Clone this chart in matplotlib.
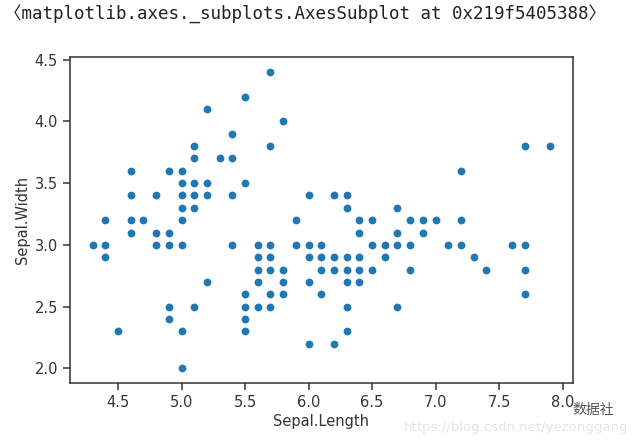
import numpy as np
import matplotlib

matplotlib.use("Agg")
import matplotlib.pyplot as plt

# Iris: Sepal.Length / Sepal.Width (setosa, versicolor, virginica)
sepal_length = [
    5.1, 4.9, 4.7, 4.6, 5.0, 5.4, 4.6, 5.0, 4.4, 4.9, 5.4, 4.8, 4.8, 4.3, 5.8, 5.7, 5.4, 5.1, 5.7, 5.1,
    5.4, 5.1, 4.6, 5.1, 4.8, 5.0, 5.0, 5.2, 5.2, 4.7, 4.8, 5.4, 5.2, 5.5, 4.9, 5.0, 5.5, 4.9, 4.4, 5.1,
    5.0, 4.5, 4.4, 5.0, 5.1, 4.8, 5.1, 4.6, 5.3, 5.0,
    7.0, 6.4, 6.9, 5.5, 6.5, 5.7, 6.3, 4.9, 6.6, 5.2, 5.0, 5.9, 6.0, 6.1, 5.6, 6.7, 5.6, 5.8, 6.2, 5.6,
    5.9, 6.1, 6.3, 6.1, 6.4, 6.6, 6.8, 6.7, 6.0, 5.7, 5.5, 5.5, 5.8, 6.0, 5.4, 6.0, 6.7, 6.3, 5.6, 5.5,
    5.5, 6.1, 5.8, 5.0, 5.6, 5.7, 5.7, 6.2, 5.1, 5.7,
    6.3, 5.8, 7.1, 6.3, 6.5, 7.6, 4.9, 7.3, 6.7, 7.2, 6.5, 6.4, 6.8, 5.7, 5.8, 6.4, 6.5, 7.7, 7.7, 6.0,
    6.9, 5.6, 7.7, 6.3, 6.7, 7.2, 6.2, 6.1, 6.4, 7.2, 7.4, 7.9, 6.4, 6.3, 6.1, 7.7, 6.3, 6.4, 6.0, 6.9,
    6.7, 6.9, 5.8, 6.8, 6.7, 6.7, 6.3, 6.5, 6.2, 5.9,
]
sepal_width = [
    3.5, 3.0, 3.2, 3.1, 3.6, 3.9, 3.4, 3.4, 2.9, 3.1, 3.7, 3.4, 3.0, 3.0, 4.0, 4.4, 3.9, 3.5, 3.8, 3.8,
    3.4, 3.7, 3.6, 3.3, 3.4, 3.0, 3.4, 3.5, 3.4, 3.2, 3.1, 3.4, 4.1, 4.2, 3.1, 3.2, 3.5, 3.6, 3.0, 3.4,
    3.5, 2.3, 3.2, 3.5, 3.8, 3.0, 3.8, 3.2, 3.7, 3.3,
    3.2, 3.2, 3.1, 2.3, 2.8, 2.8, 3.3, 2.4, 2.9, 2.7, 2.0, 3.0, 2.2, 2.9, 2.9, 3.1, 3.0, 2.7, 2.2, 2.5,
    3.2, 2.8, 2.5, 2.8, 2.9, 3.0, 2.8, 3.0, 2.9, 2.6, 2.4, 2.4, 2.7, 2.7, 3.0, 3.4, 3.1, 2.3, 3.0, 2.5,
    2.6, 3.0, 2.6, 2.3, 2.7, 3.0, 2.9, 2.9, 2.5, 2.8,
    3.3, 2.7, 3.0, 2.9, 3.0, 3.0, 2.5, 2.9, 2.5, 3.6, 3.2, 2.7, 3.0, 2.5, 2.8, 3.2, 3.0, 3.8, 2.6, 2.2,
    3.2, 2.8, 2.8, 2.7, 3.3, 3.2, 2.8, 3.0, 2.8, 3.0, 2.8, 3.8, 2.8, 2.8, 2.6, 3.0, 3.4, 3.1, 3.0, 3.1,
    3.1, 3.1, 2.7, 3.2, 3.3, 3.0, 2.5, 3.0, 3.4, 3.0,
]

x_ticks = [4.5, 5.0, 5.5, 6.0, 6.5, 7.0, 7.5, 8.0]
y_ticks = [2.0, 2.5, 3.0, 3.5, 4.0, 4.5]

fig = plt.figure(figsize=(6.4, 4.43), dpi=100)
ax = fig.add_axes([0.109, 0.135, 0.786, 0.736])

ax.scatter(sepal_length, sepal_width, s=44, c="#1f77b4",
           edgecolors="white", linewidths=1.0)

ax.set_xlim(4.12, 8.08)
ax.set_ylim(1.88, 4.52)
ax.set_xticks(x_ticks)
ax.set_yticks(y_ticks)
ax.tick_params(labelsize=10.5, colors="#333333", length=5, width=1.1)
for sp in ax.spines.values():
    sp.set_color("#333333")
    sp.set_linewidth(1.1)
ax.set_xlabel("Sepal.Length", fontsize=10.5, color="#333333", labelpad=3)
ax.set_ylabel("Sepal.Width", fontsize=10.5, color="#333333", labelpad=3)

# cabecera de salida del notebook
fig.text(0.006, 0.967, "\u3008matplotlib.axes._subplots.AxesSubplot at 0x219f5405388\u3009",
         family=["DejaVu Sans Mono", "Noto Sans CJK SC"], fontsize=12.6,
         color="#222222", va="center", ha="left")

# marca de agua
fig.text(0.895, 0.074, "数据社", family=["Noto Sans CJK SC", "DejaVu Sans"],
         fontsize=10, color="#555555", va="center", ha="left")
fig.text(0.982, 0.034, "https://blog.csdn.net/yezonggang", fontsize=9.5,
         color="#e4e4e4", va="center", ha="right")

fig.savefig("out.png", dpi=100)
